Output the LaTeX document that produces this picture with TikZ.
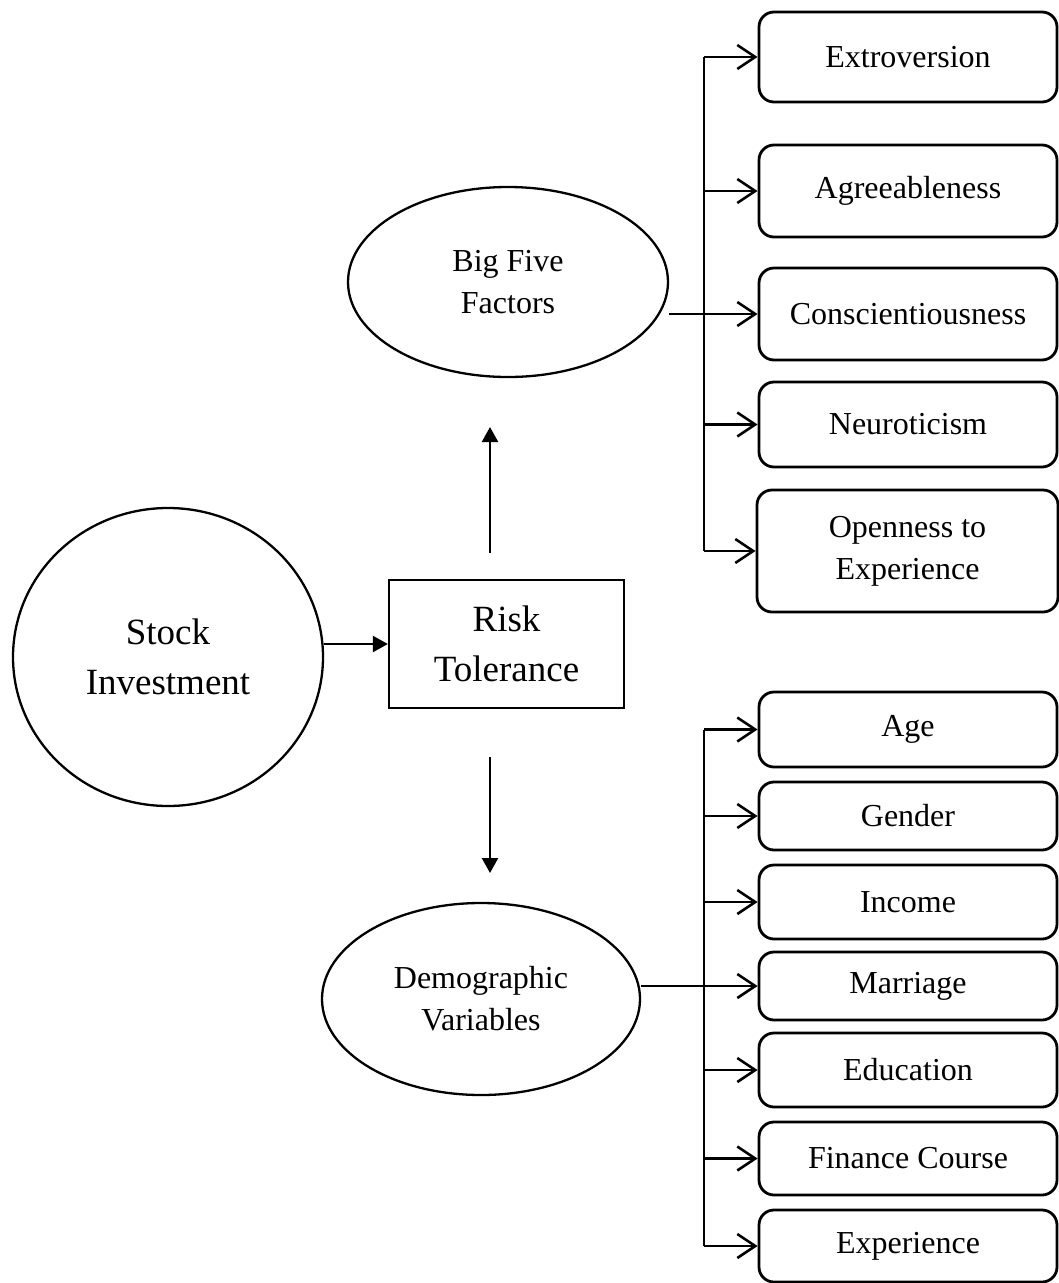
\documentclass[tikz,border=0pt]{standalone}
\usepackage{fontspec}
\setmainfont{Liberation Serif}
\usetikzlibrary{arrows.meta,shapes.geometric}

\begin{document}
\begin{tikzpicture}[x=1pt,y=-1pt,
    factor/.style={draw,line width=2.8pt,rounded corners=15pt,minimum width=298pt,inner sep=0pt,align=center,font=\fontsize{32}{42}\selectfont},
    blob/.style={draw,ellipse,line width=2.3pt,inner sep=0pt,align=center,font=\fontsize{32}{42}\selectfont},
    bigtext/.style={font=\fontsize{37}{49.5}\selectfont},
    branch/.style={line width=2.6pt,-{Straight Barb[length=18pt,width=24pt,line width=2.6pt]}},
    spine/.style={line width=1.5pt},
    link/.style={line width=2.3pt,-{Triangle[length=15pt,width=16pt]}}]
    \useasboundingbox (0,0) rectangle (1059,1283);

    \node[blob,minimum width=310pt,minimum height=298pt,bigtext] (stock) at (168,657) {Stock\\Investment};
    \node[draw,line width=2.3pt,minimum width=235pt,minimum height=128pt,align=center,bigtext] (risk) at (506.5,644) {Risk\\Tolerance};
    \node[blob,minimum width=320pt,minimum height=190pt] (bigfive) at (508,282) {Big Five\\Factors};
    \node[blob,minimum width=318pt,minimum height=192pt] (demo) at (481,999) {Demographic\\Variables};

    \node[factor,minimum height=90pt] (ext) at (908,57) {Extroversion};
    \node[factor,minimum height=92pt] (agr) at (908,191) {Agreeableness};
    \node[factor,minimum height=92pt] (con) at (908,314) {Conscientiousness};
    \node[factor,minimum height=85pt] (neu) at (908,424.5) {Neuroticism};
    \node[factor,minimum height=122pt,minimum width=301pt] (opn) at (907.5,551) {Openness to\\Experience};

    \node[factor,minimum height=75pt] (age) at (908,729.5) {Age};
    \node[factor,minimum height=68pt] (gen) at (908,816) {Gender};
    \node[factor,minimum height=74pt] (inc) at (908,902) {Income};
    \node[factor,minimum height=68pt] (mar) at (908,986) {Marriage};
    \node[factor,minimum height=74pt] (edu) at (908,1070) {Education};
    \node[factor,minimum height=73pt] (fin) at (908,1158.5) {Finance Course};
    \node[factor,minimum height=72pt] (exp) at (908,1246) {Experience};

    \coordinate (up1) at (490,553);
    \coordinate (up2) at (490,427);
    \coordinate (dn1) at (490,757);
    \coordinate (dn2) at (490,873);
    \coordinate (ts) at (704,0);

    \draw[link] (risk.west -| stock.east) -- (risk.west);
    \draw[link] (up1) -- (up2);
    \draw[link] (dn1) -- (dn2);

    \draw[spine] (ts |- ext.west) -- (ts |- opn.west);
    \foreach \b in {ext,agr,neu,opn}
        \draw[branch] (ts |- \b.west) -- (\b.west);
    \draw[branch] (bigfive.east |- con.west) -- (con.west);

    \draw[spine] (ts |- age.west) -- (ts |- exp.west);
    \foreach \b in {age,gen,inc,edu,fin,exp}
        \draw[branch] (ts |- \b.west) -- (\b.west);
    \draw[branch] (demo.east |- mar.west) -- (mar.west);

\end{tikzpicture}
\end{document}
